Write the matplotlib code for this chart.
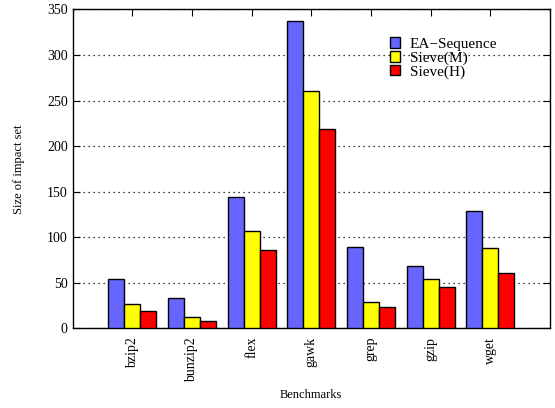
import numpy as np
import matplotlib.pyplot as plt

plt.rcParams['font.family'] = ['Liberation Serif', 'DejaVu Serif']

benchmarks = ['bzip2', 'bunzip2', 'flex', 'gawk', 'grep', 'gzip', 'wget']
ea_sequence = [54, 33, 144, 337, 89, 68, 129]
sieve_m = [27, 13, 107, 260, 29, 54, 88]
sieve_h = [19, 8, 86, 219, 23, 45, 61]

fig = plt.figure(figsize=(5.55, 4.08), dpi=100)
ax = fig.add_axes([0.131, 0.195, 0.86, 0.782])

x = np.arange(len(benchmarks))
w = 0.267
series = [(ea_sequence, '#6666ff', 'EA\u2212Sequence'),
          (sieve_m, '#ffff00', 'Sieve(M)'),
          (sieve_h, '#ff0000', 'Sieve(H)')]
for i, (vals, col, lab) in enumerate(series):
    ax.bar(x + (i - 1) * w, vals, w, color=col, edgecolor='black',
           linewidth=1.0, label=lab, zorder=3)

ax.set_xlim(-1, 7)
ax.set_ylim(0, 350)
ax.set_yticks(range(0, 351, 50))
ax.set_xticks(x)
ax.set_xticklabels(benchmarks, rotation=90, fontsize=10)
ax.tick_params(axis='y', direction='in', right=True, labelsize=10, length=5)
ax.tick_params(axis='x', direction='in', top=True, bottom=False, length=5, pad=6)
ax.grid(axis='y', color='black', linestyle=(0, (1, 3)), linewidth=0.9, zorder=0)
for s in ax.spines.values():
    s.set_linewidth(1.0)

ax.set_ylabel('Size of impact set', fontsize=9)
ax.yaxis.set_label_coords(-0.1, 0.5)
ax.set_xlabel('Benchmarks', fontsize=9)
ax.xaxis.set_label_coords(0.5, -0.19)

leg = ax.legend(loc='upper right', bbox_to_anchor=(0.889, 0.913), frameon=False,
                fontsize=11, handlelength=0.7, handleheight=0.7,
                handletextpad=0.6, labelspacing=0.0, borderaxespad=0,
                borderpad=0)

fig.savefig('out.png', dpi=100)
